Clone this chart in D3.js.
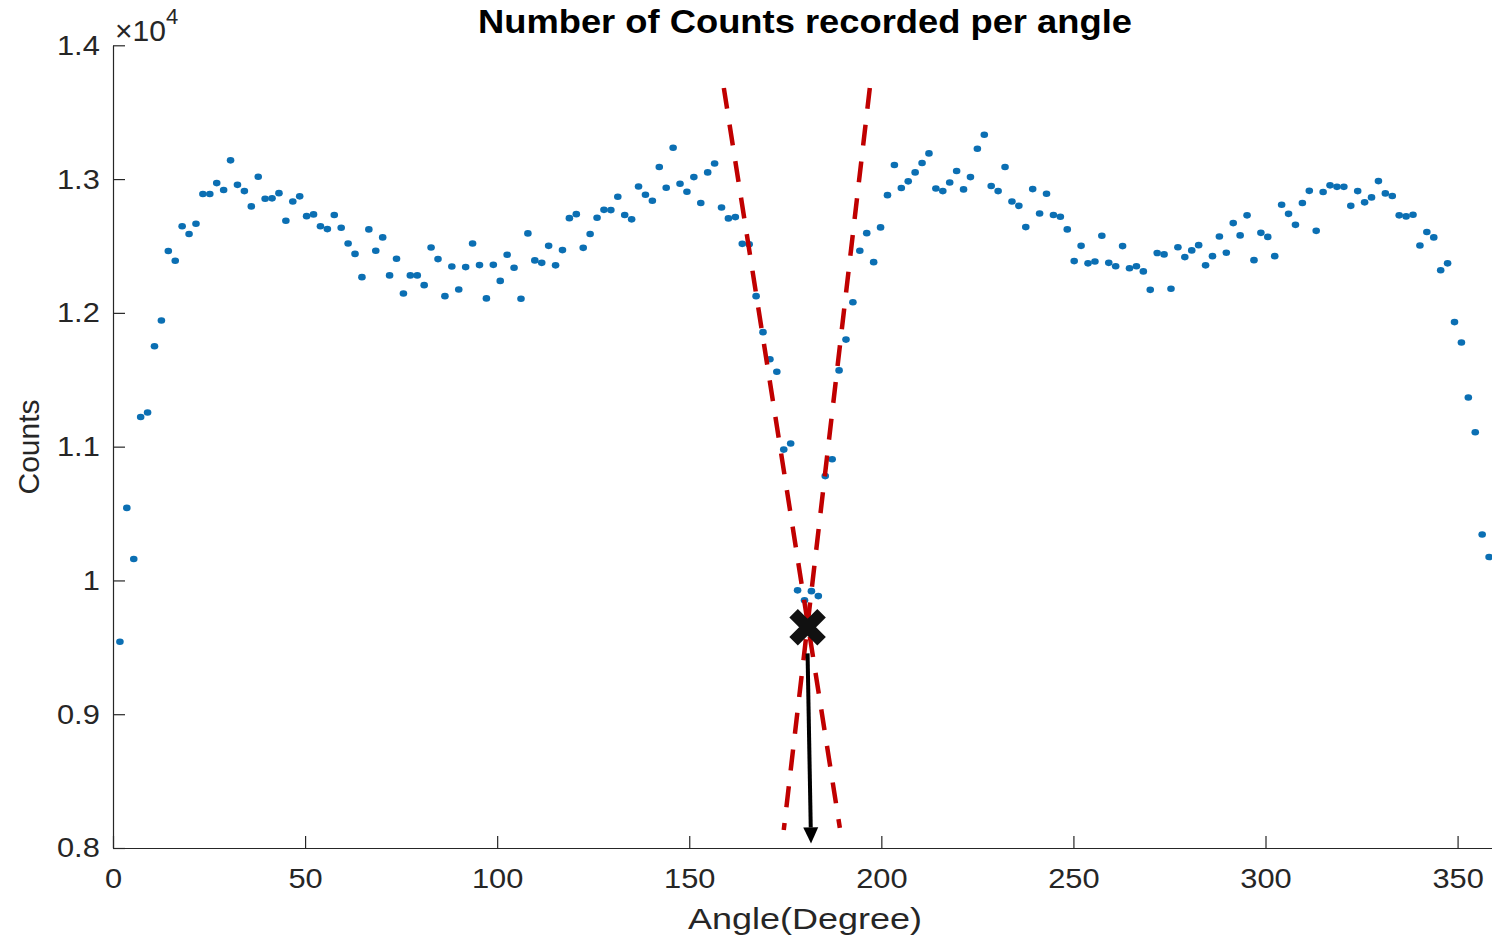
<!DOCTYPE html>
<html>
<head>
<meta charset="utf-8">
<script src="https://cdn.jsdelivr.net/npm/d3@7/dist/d3.min.js"></script>
<style>
  html, body { margin: 0; padding: 0; background: #fff; }
  svg { display: block; }
  text { font-family: "Liberation Sans", Arial, sans-serif; }
</style>
</head>
<body>
<svg id="chart" width="1492" height="935"></svg>
<script>
// ---- data ----
const angles = [
  1.8,3.6,5.4,7.2,9,10.8,12.6,14.4,16.2,18,
  19.8,21.6,23.4,25.2,27,28.8,30.6,32.4,34.2,36,
  37.8,39.6,41.4,43.2,45,46.8,48.6,50.4,52.2,54,
  55.8,57.6,59.4,61.2,63,64.8,66.6,68.4,70.2,72,
  73.8,75.6,77.4,79.2,81,82.8,84.6,86.4,88.2,90,
  91.8,93.6,95.4,97.2,99,100.8,102.6,104.4,106.2,108,
  109.8,111.6,113.4,115.2,117,118.8,120.6,122.4,124.2,126,
  127.8,129.6,131.4,133.2,135,136.8,138.6,140.4,142.2,144,
  145.8,147.6,149.4,151.2,153,154.8,156.6,158.4,160.2,162,
  163.8,165.6,167.4,169.2,171,172.8,174.6,176.4,178.2,180,
  181.8,183.6,185.4,187.2,189,190.8,192.6,194.4,196.2,198,
  199.8,201.6,203.4,205.2,207,208.8,210.6,212.4,214.2,216,
  217.8,219.6,221.4,223.2,225,226.8,228.6,230.4,232.2,234,
  235.8,237.6,239.4,241.2,243,244.8,246.6,248.4,250.2,252,
  253.8,255.6,257.4,259.2,261,262.8,264.6,266.4,268.2,270,
  271.8,273.6,275.4,277.2,279,280.8,282.6,284.4,286.2,288,
  289.8,291.6,293.4,295.2,297,298.8,300.6,302.4,304.2,306,
  307.8,309.6,311.4,313.2,315,316.8,318.6,320.4,322.2,324,
  325.8,327.6,329.4,331.2,333,334.8,336.6,338.4,340.2,342,
  343.8,345.6,347.4,349.2,351,352.8,354.6,356.4,358.2,360
];
const counts = [
  9542,10542,10160,11222,11255,11751,11943,12462,12389,12648,
  12589,12666,12888,12888,12970,12918,13140,12957,12910,12796,
  13017,12853,12856,12895,12688,12833,12871,12723,12736,12648,
  12626,12731,12636,12519,12441,12267,12624,12464,12564,12280,
  12404,12145,12280,12280,12207,12489,12402,12125,12347,12175,
  12342,12519,12357,12108,12359,12239,12434,12337,12105,12594,
  12392,12374,12501,12355,12469,12708,12738,12486,12589,12711,
  12770,12768,12868,12731,12699,12945,12883,12838,13090,12935,
  13234,12965,12905,13015,12821,13050,13117,12788,12706,12716,
  12516,12512,12125,11856,11653,11560,10978,11023,9926,9851,
  9920,9883,10780,10906,11570,11800,12079,12464,12596,12379,
  12639,12880,13105,12933,12983,13050,13120,13192,12930,12910,
  12975,13060,12923,13015,13227,13331,12948,12910,13090,12833,
  12800,12641,12925,12743,12890,12731,12718,12624,12387,12501,
  12370,12384,12576,12374,12349,12499,12334,12349,12310,12172,
  12447,12437,12180,12491,12417,12467,12506,12355,12424,12571,
  12449,12671,12579,12729,12394,12598,12568,12424,12808,12740,
  12658,12821,12912,12613,12903,12953,12942,12942,12800,12910,
  12826,12863,12985,12893,12873,12729,12721,12733,12504,12604,
  12564,12319,12370,11931,11779,11367,11108,10343,10175,9702
];
const xTicks = [0, 50, 100, 150, 200, 250, 300, 350];
const yTicks = [8000, 9000, 10000, 11000, 12000, 13000, 14000];
const yTickLabels = ["0.8", "0.9", "1", "1.1", "1.2", "1.3", "1.4"];
const titleText = "Number of Counts recorded per angle";
const xLabelText = "Angle(Degree)";
const yLabelText = "Counts";
// annotation lines (angle, counts)
const dashedLines = [
  { a1: 159.0, c1: 13681, a2: 189.2, c2: 8150 },
  { a1: 197.0, c1: 13681, a2: 174.6, c2: 8135 }
];
const crossMark = { a: 180.8, c: 9650 };
const arrowLine = { a1: 180.8, c1: 9455, a2: 181.7, c2: 8034 };

// ---- drawing ----
const svg = d3.select("#chart");
const x = d3.scaleLinear().domain([0, 360]).range([113, 1496]);
const y = d3.scaleLinear().domain([8000, 14000]).range([848, 45.3]);
const axisColor = "#262626";

// points
svg.append("g").selectAll("ellipse")
  .data(angles.map((a, i) => ({ a, c: counts[i] })))
  .join("ellipse")
  .attr("cx", d => x(d.a))
  .attr("cy", d => y(d.c))
  .attr("rx", 3.8)
  .attr("ry", 3.3)
  .attr("fill", "#0b6fb3");

// axes
const gx = svg.append("g")
  .attr("transform", `translate(0,${y(8000)})`)
  .call(d3.axisBottom(x).tickValues(xTicks).tickSizeInner(-12).tickSizeOuter(0).tickPadding(20)
        .tickFormat(d3.format("d")));
const gy = svg.append("g")
  .attr("transform", `translate(${x(0)},0)`)
  .call(d3.axisLeft(y).tickValues(yTicks).tickSizeInner(-12).tickSizeOuter(0).tickPadding(12)
        .tickFormat((d, i) => yTickLabels[i]));
[gx, gy].forEach(g => {
  g.select(".domain").attr("stroke", axisColor).attr("stroke-width", 1.2);
  g.selectAll(".tick line").attr("stroke", axisColor).attr("stroke-width", 1.2);
  g.selectAll(".tick text").attr("fill", axisColor)
    .style("font-family", "'Liberation Sans', Arial, sans-serif")
    .style("font-size", "28px")
    .attr("transform", "scale(1.1,1)");
});

// exponent label
const expo = svg.append("text")
  .attr("x", 115).attr("y", 41)
  .attr("fill", axisColor)
  .style("font-size", "30px");
expo.append("tspan").text("\u00D710");
expo.append("tspan").attr("dy", -17).style("font-size", "22px").text("4");

// title
svg.append("text")
  .attr("x", 805).attr("y", 33)
  .attr("text-anchor", "middle")
  .attr("fill", "#000")
  .style("font-size", "33px")
  .style("font-weight", "bold")
  .attr("textLength", 654)
  .attr("lengthAdjust", "spacingAndGlyphs")
  .text(titleText);

// axis labels
svg.append("text")
  .attr("x", 805).attr("y", 929)
  .attr("text-anchor", "middle")
  .attr("fill", axisColor)
  .style("font-size", "30px")
  .attr("textLength", 234)
  .attr("lengthAdjust", "spacingAndGlyphs")
  .text(xLabelText);
svg.append("text")
  .attr("transform", `translate(39,447) rotate(-90)`)
  .attr("text-anchor", "middle")
  .attr("fill", axisColor)
  .style("font-size", "30px")
  .text(yLabelText);

// dashed red lines
svg.append("g").selectAll("line")
  .data(dashedLines)
  .join("line")
  .attr("x1", d => x(d.a1)).attr("y1", d => y(d.c1))
  .attr("x2", d => x(d.a2)).attr("y2", d => y(d.c2))
  .attr("stroke", "#c00000")
  .attr("stroke-width", 4.5)
  .attr("stroke-dasharray", "21 16");

// arrow
const ax1 = x(arrowLine.a1), ay1 = y(arrowLine.c1), ax2 = x(arrowLine.a2), ay2 = y(arrowLine.c2);
const len = Math.hypot(ax2 - ax1, ay2 - ay1);
const ux = (ax2 - ax1) / len, uy = (ay2 - ay1) / len;
const headL = 16, headW = 7.5;
svg.append("line")
  .attr("x1", ax1).attr("y1", ay1)
  .attr("x2", ax2 - ux * headL).attr("y2", ay2 - uy * headL)
  .attr("stroke", "#000").attr("stroke-width", 4);
svg.append("path")
  .attr("d", `M${ax2},${ay2} L${ax2 - ux * headL - uy * headW},${ay2 - uy * headL + ux * headW} L${ax2 - ux * headL + uy * headW},${ay2 - uy * headL - ux * headW} Z`)
  .attr("fill", "#000");

// cross marker
const cx = x(crossMark.a), cy = y(crossMark.c), s = 14;
svg.append("path")
  .attr("d", `M${cx - s},${cy - s} L${cx + s},${cy + s} M${cx - s},${cy + s} L${cx + s},${cy - s}`)
  .attr("stroke", "#111").attr("stroke-width", 12).attr("stroke-linecap", "butt");
</script>
</body>
</html>
